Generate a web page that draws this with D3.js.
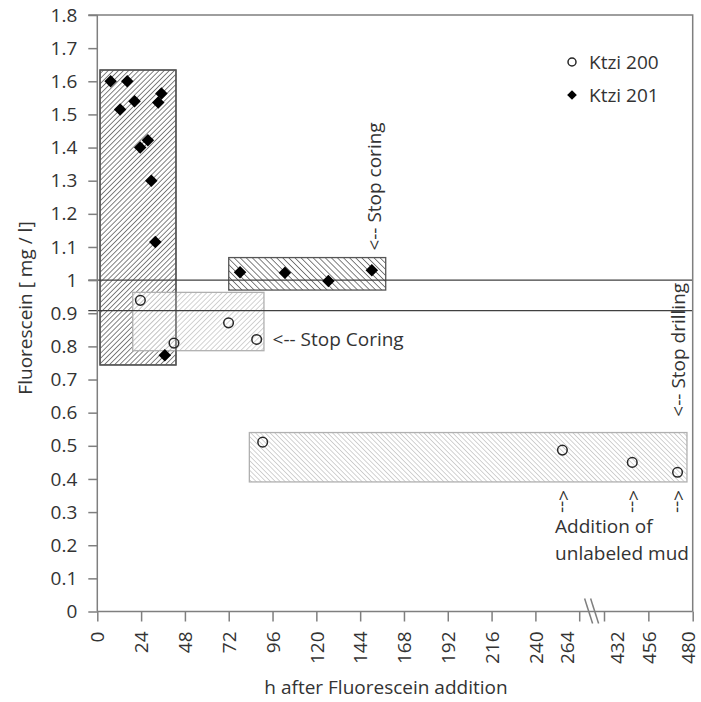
<!DOCTYPE html>
<html>
<head>
<meta charset="utf-8">
<script src="https://cdn.jsdelivr.net/npm/d3@7"></script>
<style>
  body { margin: 0; background: #fff; }
  text { font-family: "Open Sans", sans-serif; fill: #333; }
</style>
</head>
<body>
<script>
// canvas and positioning magic numbers
var w = 701;
var h = 702;
var plotLeft = 97.3;
var plotRight = 692.7;
var plotTop = 15;
var plotBottom = 611.5;
var fontSize = 19;

// data
// Ktzi 201 (diamonds)
var ktzi201Hours = [7.3, 16.4, 12.5, 20.4, 35.1, 33.4, 23.5, 27.7, 29.6, 31.8, 37.0, 78.2, 102.8, 126.6, 150.4];
var ktzi201Values = [1.60, 1.60, 1.515, 1.54, 1.563, 1.536, 1.40, 1.422, 1.30, 1.115, 0.773, 1.024, 1.022, 0.997, 1.030];
// Ktzi 200 (circles)
var ktzi200Hours = [23.6, 42.0, 71.9, 87.3, 90.6, 254.8, 447.3, 471.8];
var ktzi200Values = [0.939, 0.81, 0.871, 0.821, 0.511, 0.487, 0.450, 0.420];

// hatched range boxes
var boxStart = [1.5, 19.4, 72, 83.3];
var boxEnd = [43.1, 91.3, 158, 476.9];
var boxLow = [0.744, 0.787, 0.970, 0.391];
var boxHigh = [1.634, 0.963, 1.068, 0.540];
var boxSeries = ["Ktzi 201", "Ktzi 200", "Ktzi 201", "Ktzi 200"];
var boxHatch = ["up", "up", "down", "down"];

// reference lines
var refLines = [1.0, 0.908];

// axis ticks (broken axis between 264 and 432)
var xBreakDomain = [0, 264, 432, 480];
var xTicks = [0, 24, 48, 72, 96, 120, 144, 168, 192, 216, 240, 264, 432, 456, 480];
var yTicks = [0, 0.1, 0.2, 0.3, 0.4, 0.5, 0.6, 0.7, 0.8, 0.9, 1, 1.1, 1.2, 1.3, 1.4, 1.5, 1.6, 1.7, 1.8];

// annotations
var noteTexts = ["<-- Stop Coring", "<-- Stop coring", "<-- Stop drilling"];
var noteHours = [96, 152.2, 472.6];
var noteValues = [0.80, 1.089, 0.588];
var noteRotate = [0, -90, -90];
var mudHours = [254.8, 447.3, 471.8];

var x = d3.scaleLinear()
    .domain(xBreakDomain)
    .range([plotLeft, 579.2, 604, plotRight]);

var y = d3.scaleLinear()
    .domain([0, 1.8])
    .range([plotBottom, plotTop]);

var svg = d3.select("body")
    .append("svg")
    .attr("width", w)
    .attr("height", h);

// hatch patterns
var defs = svg.append("defs");
function hatch(id, angle, size, color, width) {
    var p = defs.append("pattern")
        .attr("id", id)
        .attr("patternUnits", "userSpaceOnUse")
        .attr("width", size)
        .attr("height", size)
        .attr("patternTransform", "rotate(" + angle + ")");
    p.append("line")
        .attr("x1", 0).attr("y1", 0)
        .attr("x2", 0).attr("y2", size)
        .attr("stroke", color)
        .attr("stroke-width", width);
}
hatch("dark-up", 45, 3.6, "#2e2e2e", 1.2);
hatch("light-up", 45, 3.6, "#a6a6a6", 1);
hatch("dark-down", -45, 4.3, "#2e2e2e", 1.2);
hatch("light-down", -45, 3.4, "#a6a6a6", 1);

function boxFill(i) {
    var dark = boxSeries[i] == "Ktzi 201";
    return "url(#" + (dark ? "dark-" : "light-") + boxHatch[i] + ")";
}

var boxes = svg.append("g");
boxStart.forEach(function(s, i) {
    var dark = boxSeries[i] == "Ktzi 201";
    if (!dark) {
        boxes.append("rect")
            .attr("x", x(s)).attr("y", y(boxHigh[i]))
            .attr("width", x(boxEnd[i]) - x(s))
            .attr("height", y(boxLow[i]) - y(boxHigh[i]))
            .attr("fill", "#fff")
            .attr("fill-opacity", 0.8);
    }
    boxes.append("rect")
        .attr("x", x(s)).attr("y", y(boxHigh[i]))
        .attr("width", x(boxEnd[i]) - x(s))
        .attr("height", y(boxLow[i]) - y(boxHigh[i]))
        .attr("fill", boxFill(i))
        .attr("stroke", dark ? "#555" : "#b0b0b0")
        .attr("stroke-width", 1.3);
});
// keep the first box outline visible through the overlapping one
boxes.append("rect")
    .attr("x", x(boxStart[0])).attr("y", y(boxHigh[0]))
    .attr("width", x(boxEnd[0]) - x(boxStart[0]))
    .attr("height", y(boxLow[0]) - y(boxHigh[0]))
    .attr("fill", "none")
    .attr("stroke", "#555")
    .attr("stroke-width", 1.3);

// reference lines
svg.append("g").selectAll("line")
    .data(refLines)
    .enter().append("line")
    .attr("x1", plotLeft - 9).attr("x2", plotRight)
    .attr("y1", function(d) { return y(d); })
    .attr("y2", function(d) { return y(d); })
    .attr("stroke", "#404040")
    .attr("stroke-width", 1.3);

// frame (top and right)
svg.append("path")
    .attr("d", "M" + (plotLeft - 9) + "," + plotTop + "H" + plotRight + "V" + plotBottom)
    .attr("fill", "none")
    .attr("stroke", "#7f7f7f")
    .attr("stroke-width", 1.5);

// y axis
var yAxis = svg.append("g")
    .attr("transform", "translate(" + plotLeft + ",0)")
    .call(d3.axisLeft(y).tickValues(yTicks).tickSize(9).tickPadding(11)
        .tickFormat(function(d) { return d3.format("")(+d.toFixed(1)); }));
yAxis.selectAll("line, path").attr("stroke", "#7f7f7f").attr("stroke-width", 1.5);
yAxis.select(".domain").attr("d", "M0," + plotTop + "V" + plotBottom);
yAxis.selectAll("text").style("font-size", fontSize + "px")
    .style("font-family", "'Open Sans', sans-serif").attr("fill", "#333");

// x axis with break
var labelShift = {264: -12, 432: 13, 480: -4.5};
var xAxis = svg.append("g")
    .attr("transform", "translate(0," + plotBottom + ")")
    .call(d3.axisBottom(x).tickValues(xTicks).tickSize(10));
xAxis.selectAll("line, path").attr("stroke", "#7f7f7f").attr("stroke-width", 1.5);
xAxis.select(".domain").attr("d", "M" + plotLeft + ",0H" + plotRight);
xAxis.selectAll("text")
    .style("font-size", fontSize + "px")
    .style("font-family", "'Open Sans', sans-serif")
    .attr("fill", "#333")
    .attr("transform", "rotate(-90)")
    .style("text-anchor", "end")
    .attr("x", -20)
    .attr("y", function(d) { return labelShift[d] || 0; })
    .attr("dy", "0.35em");

// break marks
var bx = (x(264) + x(432)) / 2;
[-3, 3].forEach(function(o) {
    svg.append("line")
        .attr("x1", bx + o - 4).attr("y1", plotBottom - 13)
        .attr("x2", bx + o + 4).attr("y2", plotBottom + 12)
        .attr("stroke", "#7f7f7f")
        .attr("stroke-width", 1.5);
});

// axis titles
svg.append("text")
    .attr("x", (plotLeft + plotRight) / 2 - 9)
    .attr("y", 694)
    .attr("text-anchor", "middle")
    .style("font-size", fontSize + "px")
    .text("h after Fluorescein addition");

svg.append("text")
    .attr("transform", "translate(32," + 308 + ") rotate(-90)")
    .attr("text-anchor", "middle")
    .style("font-size", fontSize + "px")
    .text("Fluorescein [ mg / l]");

// annotations
noteTexts.forEach(function(t, i) {
    var txt = svg.append("text")
        .style("font-size", fontSize + "px")
        .text(t);
    if (noteRotate[i] == 0) {
        txt.attr("x", x(noteHours[i])).attr("y", y(noteValues[i]));
    } else {
        txt.attr("transform", "translate(" + x(noteHours[i]) + "," + y(noteValues[i]) + ") rotate(" + noteRotate[i] + ")")
            .attr("dy", "0.3em");
    }
});

// upward dashed arrows marking unlabeled mud additions
svg.append("g").selectAll("text")
    .data(mudHours)
    .enter().append("text")
    .attr("transform", function(d) { return "translate(" + x(d) + "," + y(0.367) + ") rotate(90)"; })
    .attr("dy", "0.3em")
    .style("font-size", fontSize + "px")
    .text("<--");

var mud = svg.append("text")
    .attr("x", x(250.8))
    .attr("y", y(0.236))
    .style("font-size", fontSize + "px");
mud.append("tspan").text("Addition of");
mud.append("tspan").attr("x", x(250.8)).attr("dy", "1.4em").text("unlabeled mud");

// points
var diamond = d3.symbol().type(d3.symbolDiamond2).size(100);
svg.append("g").selectAll("path")
    .data(ktzi201Hours)
    .enter().append("path")
    .attr("d", diamond)
    .attr("transform", function(d, i) { return "translate(" + x(d) + "," + y(ktzi201Values[i]) + ")"; })
    .attr("fill", "#000");

svg.append("g").selectAll("circle")
    .data(ktzi200Hours)
    .enter().append("circle")
    .attr("cx", function(d) { return x(d); })
    .attr("cy", function(d, i) { return y(ktzi200Values[i]); })
    .attr("r", 4.8)
    .attr("fill", "none")
    .attr("stroke", "#262626")
    .attr("stroke-width", 1.5);

// legend
var legendNames = ["Ktzi 200", "Ktzi 201"];
var legend = svg.append("g")
    .selectAll("g")
    .data(legendNames)
    .enter().append("g")
    .attr("transform", function(d, i) { return "translate(572," + (62 + i * 33) + ")"; });
legend.each(function(d, i) {
    var g = d3.select(this);
    if (i == 0) {
        g.append("circle").attr("r", 4).attr("fill", "none")
            .attr("stroke", "#262626").attr("stroke-width", 1.5);
    } else {
        g.append("path").attr("d", d3.symbol().type(d3.symbolDiamond2).size(60)).attr("fill", "#000");
    }
    g.append("text")
        .attr("x", 17)
        .attr("dy", "0.35em")
        .style("font-size", fontSize + "px")
        .text(d);
});
</script>
</body>
</html>
